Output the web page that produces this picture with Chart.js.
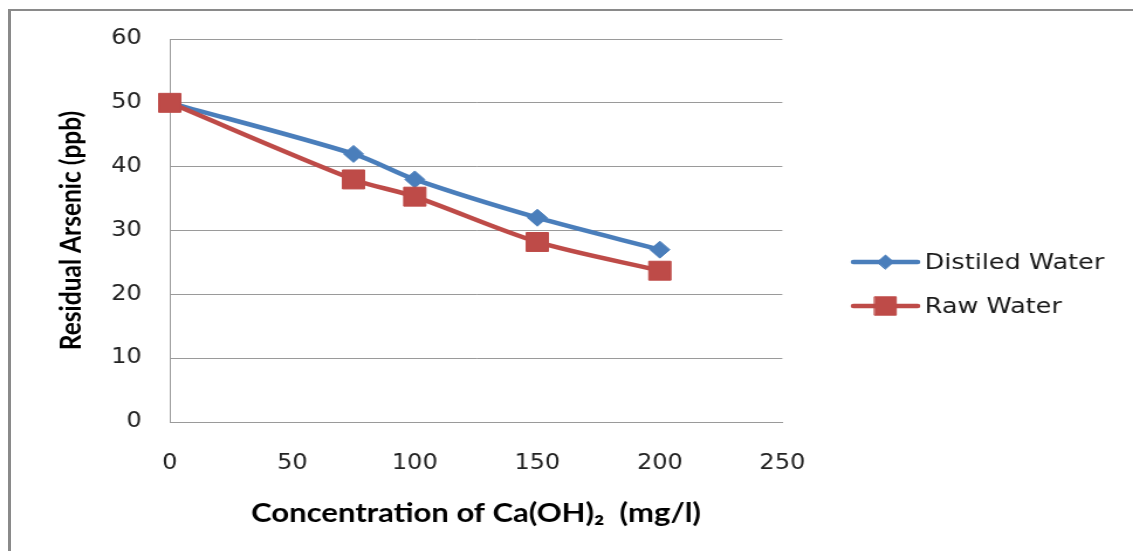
<!DOCTYPE html>
<html>
<head>
<meta charset="utf-8">
<script src="https://cdn.jsdelivr.net/npm/chart.js@4.4.1/dist/chart.umd.min.js"></script>
<style>
  html, body { margin: 0; padding: 0; background: #fff; overflow: hidden; }
  /* grey frame of the chart object, runs off to the right and bottom */
  #frame {
    position: absolute; left: 8px; top: 9px;
    width: 1300px; height: 700px;
    border-left: 3px solid #8a8a8a; border-top: 2px solid #8a8a8a;
  }
  /* chart is laid out narrower and stretched sideways like the original export */
  #wrap {
    position: absolute; left: 0; top: 0;
    width: 968px; height: 551px;
    transform: scaleX(1.1705); transform-origin: 0 0;
  }
</style>
</head>
<body>
<div id="frame"></div>
<div id="wrap"><canvas id="arsenic-chart"></canvas></div>
<script>
// Ca(OH)2 dose in mg/l
let doses = [0, 75, 100, 150, 200]
// residual arsenic in ppb
let distiledWater = [50, 42, 38, 32, 27]
let rawWater = [50, 38, 35.3, 28.2, 23.7]

let seriesNames = ['Distiled Water', 'Raw Water']
let xTitle = 'Concentration of Ca(OH)\u2082  (mg/l)'
let yTitle = 'Residual Arsenic (ppb)'

let blue = '#4a7ebb'
let red = '#be4b48'
let gridGrey = '#9a9a9a'

function toPoints(values) {
    return doses.map((d, i) => ({ x: d, y: values[i] }))
}

// legend at the right: line with the marker in the middle, then the name
let sideLegend = {
    id: 'sideLegend',
    afterDraw(chart) {
        let ctx = chart.ctx
        let x0 = 729, lineLen = 55, top = 262, gap = 44
        chart.data.datasets.forEach((ds, row) => {
            let y = top + row * gap
            ctx.save()
            ctx.strokeStyle = ds.borderColor
            ctx.fillStyle = ds.borderColor
            ctx.lineWidth = ds.borderWidth
            ctx.lineCap = 'round'
            ctx.beginPath()
            ctx.moveTo(x0, y)
            ctx.lineTo(x0 + lineLen, y)
            ctx.stroke()
            ctx.lineWidth = 1
            Chart.helpers.drawPoint(ctx, {
                pointStyle: ds.pointStyle,
                radius: ds.legendRadius,
                borderWidth: 1
            }, x0 + lineLen / 2, y)
            ctx.fillStyle = '#1a1a1a'
            ctx.font = '21.8px "DejaVu Sans"'
            ctx.textBaseline = 'middle'
            ctx.textAlign = 'left'
            ctx.fillText(ds.label, x0 + lineLen + 6, y + 1)
            ctx.restore()
        })
    }
}

let ctx = document.querySelector('#arsenic-chart').getContext('2d')

let arsenicChart = new Chart(ctx, {
    type: 'line',
    data: {
        datasets: [
            {
                label: seriesNames[0],
                data: toPoints(distiledWater),
                borderColor: blue,
                backgroundColor: blue,
                borderWidth: 4.5,
                pointStyle: 'rectRot',
                pointRadius: 8.5,
                pointBorderWidth: 1,
                legendRadius: 7,
                tension: 0.3,
                clip: false,
                order: 1
            },
            {
                label: seriesNames[1],
                data: toPoints(rawWater),
                borderColor: red,
                backgroundColor: red,
                borderWidth: 4.5,
                pointStyle: 'rect',
                pointRadius: 13.4,
                pointBorderWidth: 1,
                legendRadius: 13,
                tension: 0.3,
                clip: false,
                order: 0
            }
        ]
    },
    options: {
        responsive: true,
        maintainAspectRatio: false,
        animation: false,
        events: [],
        layout: {
            padding: { left: 46, right: 299.6, top: 39, bottom: 10 }
        },
        plugins: {
            legend: { display: false },
            tooltip: { enabled: false }
        },
        scales: {
            x: {
                type: 'linear',
                min: 0,
                max: 250,
                afterFit(scale) { scale.height = 119 },
                ticks: {
                    stepSize: 50,
                    padding: 29,
                    color: '#222',
                    font: { family: 'DejaVu Sans', size: 20.5 },
                    maxRotation: 0
                },
                grid: { display: false, drawTicks: false },
                border: { display: true, color: gridGrey, width: 1 },
                title: {
                    display: true,
                    text: xTitle,
                    color: '#000',
                    font: { family: 'Lato', weight: 'bold', size: 26.5 },
                    padding: { top: 0, bottom: 12 }
                }
            },
            y: {
                min: 0,
                max: 60,
                afterFit(scale) { scale.width = 99 },
                ticks: {
                    stepSize: 10,
                    padding: 24,
                    color: '#222',
                    font: { family: 'DejaVu Sans', size: 20.5 }
                },
                grid: { color: gridGrey, lineWidth: 1, drawTicks: false },
                border: { display: true, color: gridGrey, width: 1 },
                title: {
                    display: true,
                    text: yTitle,
                    color: '#000',
                    font: { family: 'Lato', weight: 'bold', size: 24.5 },
                    padding: { top: 0, bottom: 0 }
                }
            }
        }
    },
    plugins: [sideLegend]
})
</script>
</body>
</html>
